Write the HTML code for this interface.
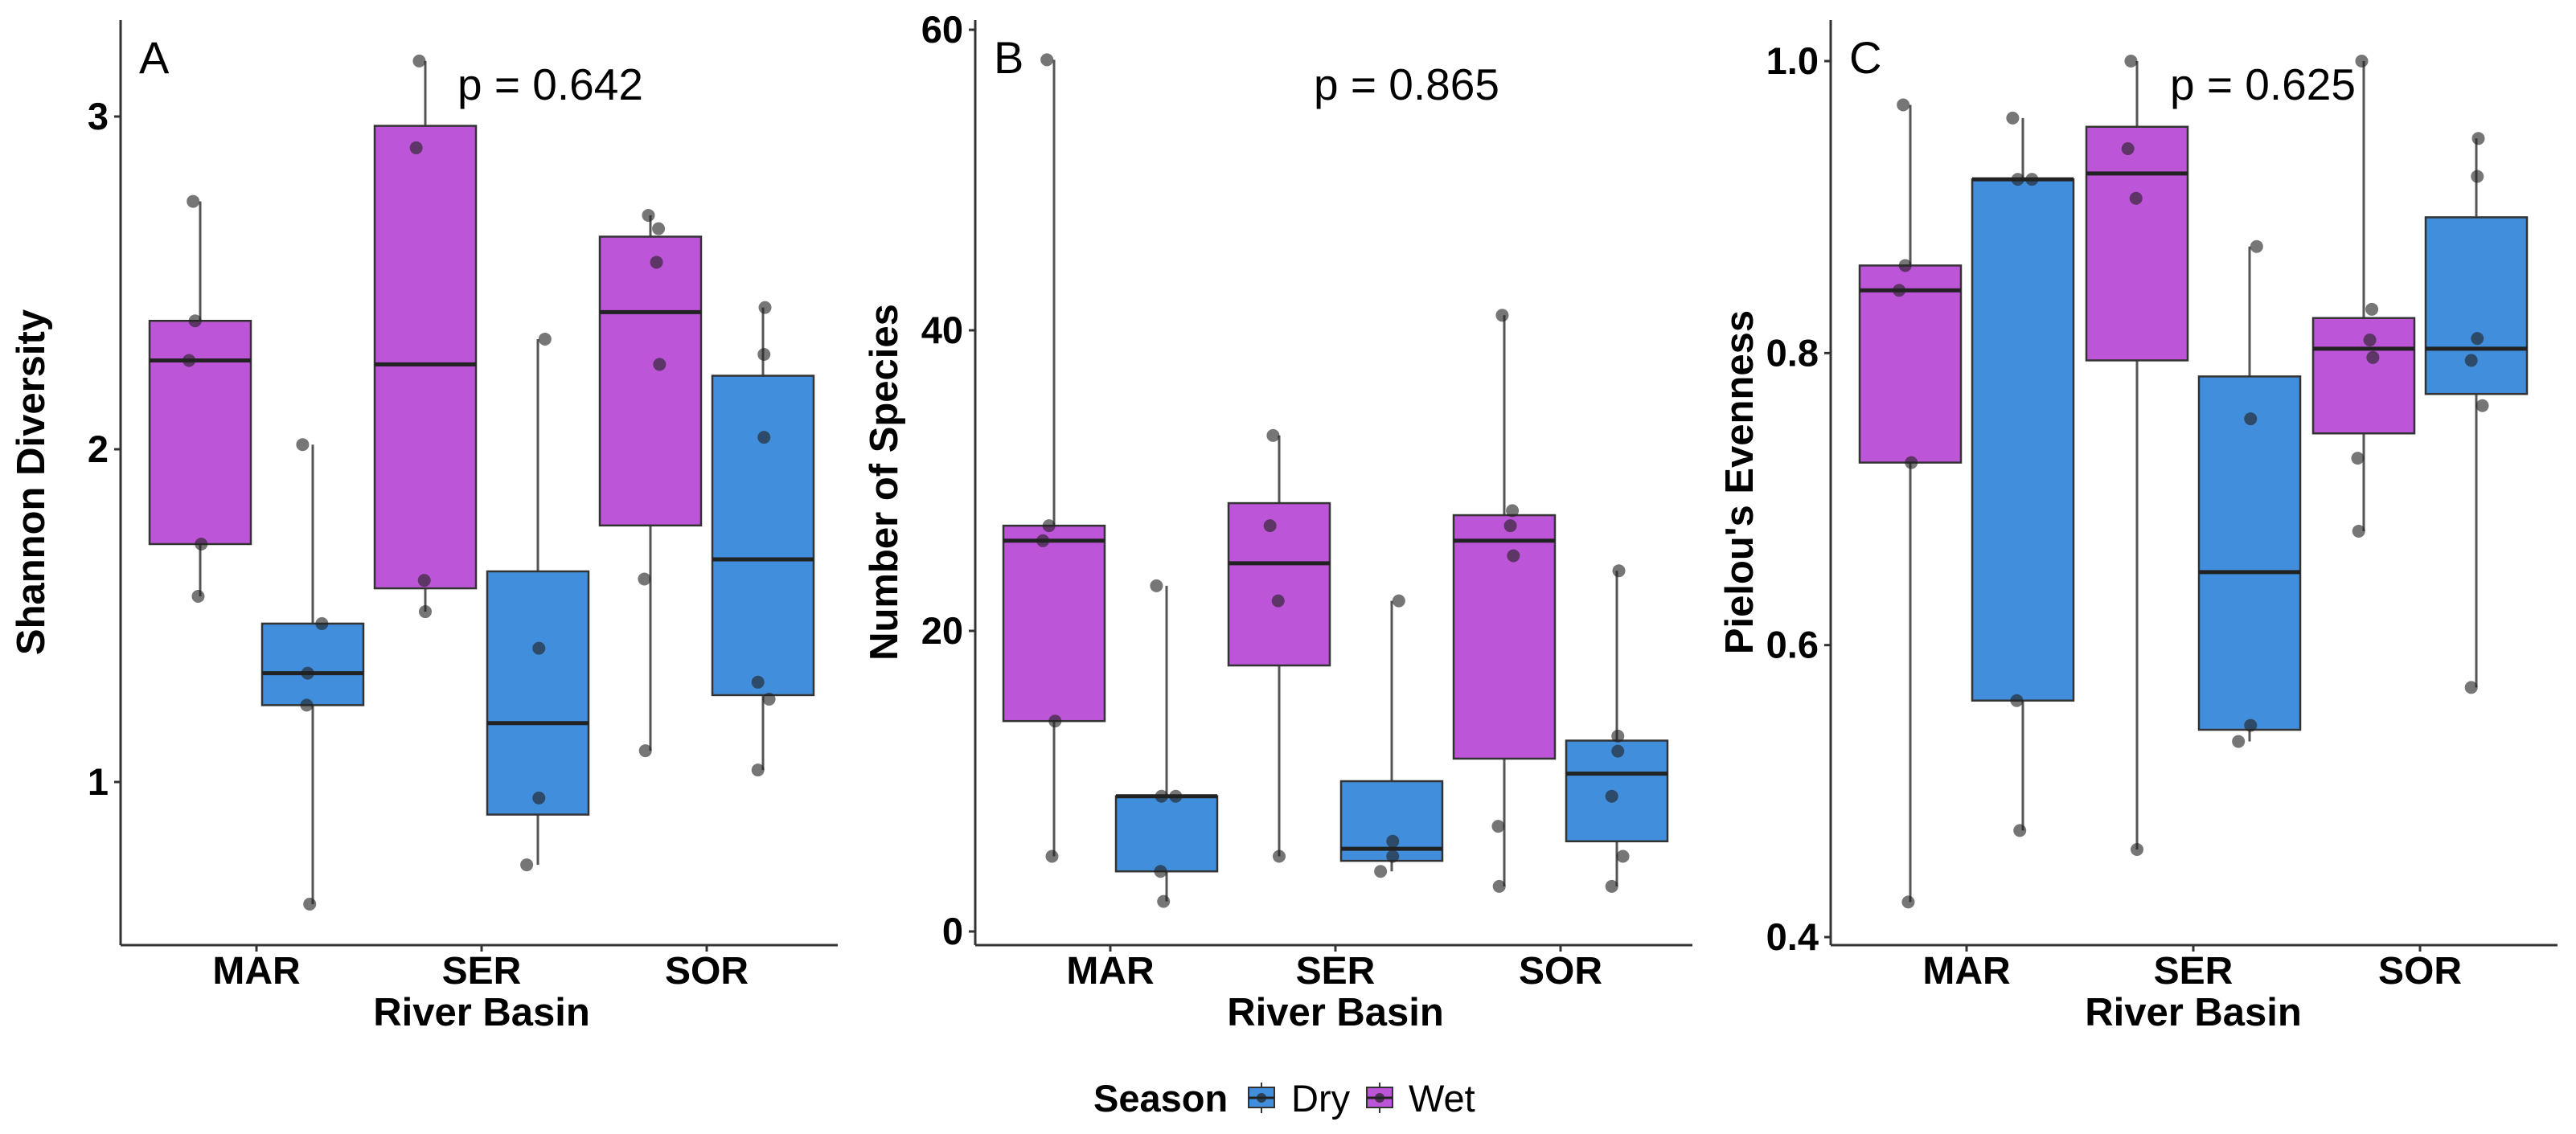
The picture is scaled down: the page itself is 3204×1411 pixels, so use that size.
<!DOCTYPE html>
<html><head><meta charset="utf-8"><style>
html,body{margin:0;padding:0;background:#fff;}
svg{display:block;font-family:"Liberation Sans",Arial,sans-serif;}
</style></head><body>
<svg id="chart" width="3204" height="1411" viewBox="0 0 3204 1411" xmlns="http://www.w3.org/2000/svg">
<g id="legend">
  <text x="1360" y="1383" font-size="47" font-weight="bold">Season</text>
  <g>
    <line x1="1569" y1="1347" x2="1569" y2="1385" stroke="#333" stroke-width="2"/>
    <rect x="1553" y="1353" width="32" height="25" fill="#418FDC" stroke="#333" stroke-width="2"/>
    <line x1="1553" y1="1366" x2="1585" y2="1366" stroke="#222" stroke-width="3"/>
    <circle cx="1569" cy="1366" r="6" fill="#222" opacity="0.7"/>
    <text x="1606" y="1383" font-size="47">Dry</text>
  </g>
  <g>
    <line x1="1716" y1="1347" x2="1716" y2="1385" stroke="#333" stroke-width="2"/>
    <rect x="1700" y="1353" width="32" height="25" fill="#BD55D8" stroke="#333" stroke-width="2"/>
    <line x1="1700" y1="1366" x2="1732" y2="1366" stroke="#222" stroke-width="3"/>
    <circle cx="1716" cy="1366" r="6" fill="#222" opacity="0.7"/>
    <text x="1752" y="1383" font-size="47">Wet</text>
  </g>
</g>
</svg>
<script>
const categories = ["MAR","SER","SOR"];
// Panel A: Shannon diversity  [lower whisker, q1, median, q3, upper whisker]
const aWetStats = [[1.558,1.715,2.267,2.386,2.745],[1.512,1.582,2.255,2.972,3.167],[1.094,1.771,2.412,2.639,2.703]];
const aDryStats = [[0.633,1.231,1.327,1.476,2.014],[0.751,0.902,1.177,1.633,2.331],[1.036,1.261,1.669,2.221,2.426]];
const aWetPoints = [[2.745,2.386,2.267,1.715,1.558],[3.167,2.906,1.606,1.512],[2.703,2.663,2.562,2.255,1.610,1.094]];
const aDryPoints = [[2.014,1.476,1.327,1.231,0.633],[2.331,1.402,0.952,0.751],[2.426,2.285,2.036,1.300,1.249,1.036]];
const aTicks = [1,2,3];
// Panel B: Number of species
const bWetStats = [[5,14,26,27,58],[5,17.7,24.5,28.5,33],[3,11.5,26,27.7,41]];
const bDryStats = [[2,4,9,9,23],[4,4.7,5.5,10,22],[3,6,10.5,12.7,24]];
const bWetPoints = [[58,27,26,14,5],[33,27,22,5],[41,28,27,25,7,3]];
const bDryPoints = [[23,9,9,4,2],[22,6,5,4],[24,13,12,9,5,3]];
const bTicks = [0,20,40,60];
// Panel C: Pielou's evenness
const cWetStats = [[0.424,0.725,0.843,0.860,0.970],[0.460,0.795,0.923,0.955,1.0],[0.678,0.745,0.803,0.824,1.0]];
const cDryStats = [[0.473,0.562,0.919,0.919,0.961],[0.534,0.542,0.650,0.784,0.873],[0.571,0.772,0.803,0.893,0.947]];
const cWetPoints = [[0.970,0.860,0.843,0.725,0.424],[1.0,0.940,0.906,0.460],[1.0,0.830,0.809,0.797,0.728,0.678]];
const cDryPoints = [[0.961,0.919,0.919,0.562,0.473],[0.873,0.755,0.545,0.534],[0.947,0.921,0.810,0.795,0.764,0.571]];
const cTicks = [0.4,0.6,0.8,1.0];
const cTickLabels = ["0.4","0.6","0.8","1.0"];
// jitter as fraction of box width
const jitWet = [[-0.07,-0.05,-0.11,0.01,-0.02],[-0.06,-0.09,-0.01,0],[-0.02,0.08,0.06,0.09,-0.06,-0.05]];
const jitDry = [[-0.1,0.09,-0.05,-0.06,-0.03],[0.07,0.01,0.01,-0.11],[0.02,0.01,0.01,-0.05,0.06,-0.05]];

const NS="http://www.w3.org/2000/svg";
const svg=document.getElementById('chart');
function mk(tag,attrs,parent){const e=document.createElementNS(NS,tag);for(const k in attrs)e.setAttribute(k,attrs[k]);(parent||svg).appendChild(e);return e;}

function panel(cfg){
  const g=mk('g',{});
  
  
  const y=v=>cfg.y0px+(v-cfg.y0)*(cfg.y1px-cfg.y0px)/(cfg.y1-cfg.y0);
  const xc=i=>cfg.left+cfg.firstCat+i*cfg.catStep;
  const bw=126, off=70;
  const ya=mk('line',{x1:cfg.left,y1:25,x2:cfg.left,y2:1176,stroke:'#333','stroke-width':3},g);
  
  
  const xa=mk('line',{x1:cfg.left,y1:1176,x2:cfg.right,y2:1176,stroke:'#333','stroke-width':3},g);
  
  
  cfg.ticks.forEach((t,i)=>{
    mk('line',{x1:cfg.left-8,y1:y(t),x2:cfg.left,y2:y(t),stroke:'#333','stroke-width':3},g);
    const tl=mk('text',{x:cfg.left-15,y:y(t)+16,'font-size':47,'font-weight':'bold','text-anchor':'end'},g);
    tl.textContent=cfg.tickLabels?cfg.tickLabels[i]:String(t);
    
    
  });
  categories.forEach((c,i)=>{
    mk('line',{x1:xc(i),y1:1176,x2:xc(i),y2:1184,stroke:'#333','stroke-width':3},g);
    const t=mk('text',{x:xc(i),y:1224,'font-size':48,'font-weight':'bold','text-anchor':'middle'},g);
    t.textContent=c;
    
    
  });
  const xt=mk('text',{x:cfg.left+cfg.firstCat+cfg.catStep,y:1276,'font-size':49,'font-weight':'bold','text-anchor':'middle'},g);
  xt.textContent='River Basin';
  
  
  const yt=mk('text',{x:0,y:0,'font-size':49,'font-weight':'bold','text-anchor':'middle',transform:`translate(${cfg.ytx},600) rotate(-90)`},g);
  yt.textContent=cfg.ytitle;
  
  
  const lab=mk('text',{x:cfg.left+23,y:91,'font-size':56},g);
  lab.textContent=cfg.letter;
  
  
  const pt=mk('text',{x:cfg.px,y:124,'font-size':55},g);
  pt.textContent=cfg.ptext;
  
  
  const groups=[{stats:cfg.wet,pts:cfg.wetPts,jit:jitWet,fill:'#BD55D8',d:-off,n:'wet'},{stats:cfg.dry,pts:cfg.dryPts,jit:jitDry,fill:'#418FDC',d:off,n:'dry'}];
  groups.forEach(gr=>{
    gr.stats.forEach((s,i)=>{
      const cx=xc(i)+gr.d;
      const bg=mk('g',{},g);
      
      
      mk('line',{x1:cx,y1:y(s[4]),x2:cx,y2:y(s[3]),stroke:'#555','stroke-width':3},bg);
      mk('line',{x1:cx,y1:y(s[1]),x2:cx,y2:y(s[0]),stroke:'#555','stroke-width':3},bg);
      mk('rect',{x:cx-bw/2,y:y(s[3]),width:bw,height:Math.max(1,y(s[1])-y(s[3])),fill:gr.fill,stroke:'#333','stroke-width':2.5},bg);
      mk('line',{x1:cx-bw/2,y1:y(s[2]),x2:cx+bw/2,y2:y(s[2]),stroke:'#222','stroke-width':5},bg);
    });
    gr.pts.forEach((arr,i)=>{
      arr.forEach((v,j)=>{
        const c=mk('circle',{cx:xc(i)+gr.d+gr.jit[i][j]*bw,cy:y(v),r:8,fill:'#222','fill-opacity':0.62},g);
        
        
      });
    });
  });
}

panel({name:'panel-a-shannon',letter:'A',left:150,right:1042,firstCat:169,catStep:280,y0:1,y1:3,y0px:973,y1px:145,ticks:aTicks,
  wet:aWetStats,dry:aDryStats,wetPts:aWetPoints,dryPts:aDryPoints,ytitle:'Shannon Diversity',ytx:55,px:569,ptext:'p = 0.642'});
panel({name:'panel-b-species',letter:'B',left:1213,right:2105,firstCat:168,catStep:280,y0:0,y1:60,y0px:1159,y1px:37,ticks:bTicks,
  wet:bWetStats,dry:bDryStats,wetPts:bWetPoints,dryPts:bDryPoints,ytitle:'Number of Species',ytx:1116,px:1634,ptext:'p = 0.865'});
panel({name:'panel-c-evenness',letter:'C',left:2277,right:3181,firstCat:169,catStep:282,y0:0.4,y1:1.0,y0px:1166,y1px:76,ticks:cTicks,tickLabels:cTickLabels,
  wet:cWetStats,dry:cDryStats,wetPts:cWetPoints,dryPts:cDryPoints,ytitle:"Pielou's Evenness",ytx:2180,px:2699,ptext:'p = 0.625'});
</script>
</body></html>
